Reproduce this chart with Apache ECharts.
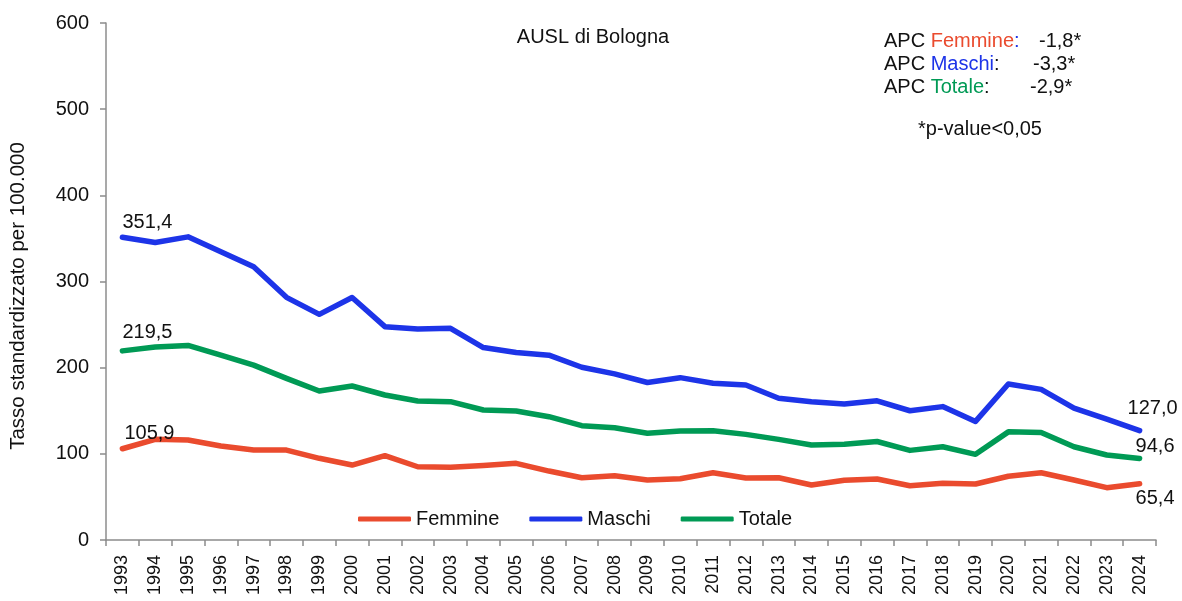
<!DOCTYPE html>
<html>
<head>
<meta charset="utf-8">
<script src="https://cdn.jsdelivr.net/npm/echarts@6/dist/echarts.min.js"></script>
<style>
  html, body { margin: 0; padding: 0; background: #fff; }
  #chart { width: 1182px; height: 601px; }
</style>
</head>
<body>
<div id="chart"></div>
<script>
// Anni di osservazione
const years = ['1993','1994','1995','1996','1997','1998','1999','2000','2001','2002','2003',
  '2004','2005','2006','2007','2008','2009','2010','2011','2012','2013','2014','2015','2016',
  '2017','2018','2019','2020','2021','2022','2023','2024'];

// Tassi standardizzati per 100.000
const femmine = [105.9, 116.9, 116.0, 109.0, 104.4, 104.4, 94.8, 87.0, 97.9, 85.0, 84.5,
  86.4, 89.0, 80.0, 72.3, 74.6, 69.6, 71.1, 78.1, 72.0, 72.2, 63.8, 69.3, 70.8,
  63.0, 65.8, 65.0, 74.0, 78.0, 69.6, 60.7, 65.4];
const maschi = [351.4, 345.2, 351.8, 334.6, 317.0, 281.6, 261.9, 281.4, 247.6, 244.9, 245.7,
  223.4, 217.6, 214.5, 200.5, 192.8, 182.8, 188.4, 181.9, 179.9, 164.5, 160.5, 157.8, 161.5,
  150.0, 154.8, 137.6, 181.0, 174.8, 153.0, 140.3, 127.0];
const totale = [219.5, 224.0, 225.8, 214.6, 203.0, 187.6, 172.9, 178.7, 168.3, 161.3, 160.5,
  150.9, 149.7, 143.1, 132.7, 130.3, 123.8, 126.5, 126.9, 122.6, 116.8, 110.2, 111.2, 114.3,
  104.0, 108.2, 99.4, 125.5, 124.8, 108.2, 98.6, 94.6];

// Tick dell'asse verticale
const yTicks = { min: 0, max: 600, step: 100 };

// APC (variazione percentuale annua)
const apc = { Femmine: '-1,8*', Maschi: '-3,3*', Totale: '-2,9*' };

const colors = { Femmine: '#EA4B2E', Maschi: '#1D34E8', Totale: '#009A55' };
const FONT = 'Liberation Sans, Arial, sans-serif';
const INK = '#111';

const fmt = v => v.toFixed(1).replace('.', ',');

// Etichette solo sul primo e sull'ultimo punto
function withLabels(values, first, last) {
  return values.map((v, i) => {
    if (i === 0) return { value: v, label: Object.assign({ show: true }, first) };
    if (i === values.length - 1) return { value: v, label: Object.assign({ show: true }, last) };
    return v;
  });
}

const labelBase = {
  show: false, color: INK, fontFamily: FONT, fontSize: 20, align: 'left',
  formatter: p => fmt(p.value)
};

const chart = echarts.init(document.getElementById('chart'), null, { renderer: 'canvas' });

function lineSeries(name, data) {
  return {
    name, type: 'line', data,
    symbol: 'circle', symbolSize: 0.01, showSymbol: true, smooth: false,
    lineStyle: { width: 5.5, color: colors[name], cap: 'round', join: 'round' },
    itemStyle: { color: colors[name] },
    label: labelBase,
    emphasis: { disabled: true },
    z: name === 'Maschi' ? 3 : 2
  };
}

const txt = (color) => ({ fontFamily: FONT, fontSize: 20, fontWeight: 'normal', color, lineHeight: 23 });

chart.setOption({
  animation: false,
  textStyle: { fontFamily: FONT },
  grid: { left: 106, right: 26, top: 23, bottom: 61, containLabel: false },
  title: [
    {
      text: 'AUSL di Bologna', left: 588, top: 21, textAlign: 'center',
      textStyle: txt(INK)
    },
    {
      text: '{k|APC }{f|Femmine}{m|:}\n{k|APC }{m|Maschi}{k|:}\n{k|APC }{t|Totale}{k|:}',
      left: 879, top: 25,
      textStyle: Object.assign(txt(INK), {
        rich: { k: txt(INK), f: txt(colors.Femmine), m: txt(colors.Maschi), t: txt(colors.Totale) }
      })
    },
    { text: apc.Femmine, left: 1034, top: 25, textStyle: txt(INK) },
    { text: apc.Maschi, left: 1028, top: 48, textStyle: txt(INK) },
    { text: apc.Totale, left: 1025, top: 71, textStyle: txt(INK) },
    { text: '*p-value<0,05', left: 913, top: 113, textStyle: txt(INK) }
  ],
  legend: {
    data: ['Femmine', 'Maschi', 'Totale'],
    left: 353, top: 504,
    itemWidth: 53, itemHeight: 5, itemGap: 30,
    icon: 'roundRect',
    textStyle: { fontFamily: FONT, fontSize: 20, color: INK }
  },
  graphic: [
    {
      type: 'text', x: 18, y: 296, rotation: Math.PI / 2,
      style: {
        text: 'Tasso standardizzato per 100.000', fill: INK,
        font: '20.5px Liberation Sans, Arial, sans-serif',
        textAlign: 'center', textVerticalAlign: 'middle'
      }
    }
  ],
  xAxis: {
    type: 'category', data: years, boundaryGap: true,
    axisLine: { lineStyle: { color: '#8c8c8c', width: 1.5 } },
    axisTick: { show: true, interval: 0, length: 6, lineStyle: { color: '#8c8c8c', width: 1.5 } },
    axisLabel: {
      interval: 0, rotate: 90, color: INK, fontFamily: FONT, fontSize: 18, margin: 15
    }
  },
  yAxis: {
    type: 'value', min: yTicks.min, max: yTicks.max, interval: yTicks.step,
    splitLine: { show: false },
    axisLine: { show: true, lineStyle: { color: '#8c8c8c', width: 1.5 } },
    axisTick: { show: true, length: 6, lineStyle: { color: '#8c8c8c', width: 1.5 } },
    axisLabel: { color: INK, fontFamily: FONT, fontSize: 20, margin: 17 }
  },
  series: [
    lineSeries('Femmine', withLabels(femmine,
      { position: 'top', offset: [2, 0] },
      { position: 'bottom', offset: [-4, 0] })),
    lineSeries('Maschi', withLabels(maschi,
      { position: 'top', offset: [0, 0] },
      { position: 'top', offset: [-12, -7] })),
    lineSeries('Totale', withLabels(totale,
      { position: 'top', offset: [0, -3] },
      { position: 'top', offset: [-4, 3] }))
  ]
});
</script>
</body>
</html>
